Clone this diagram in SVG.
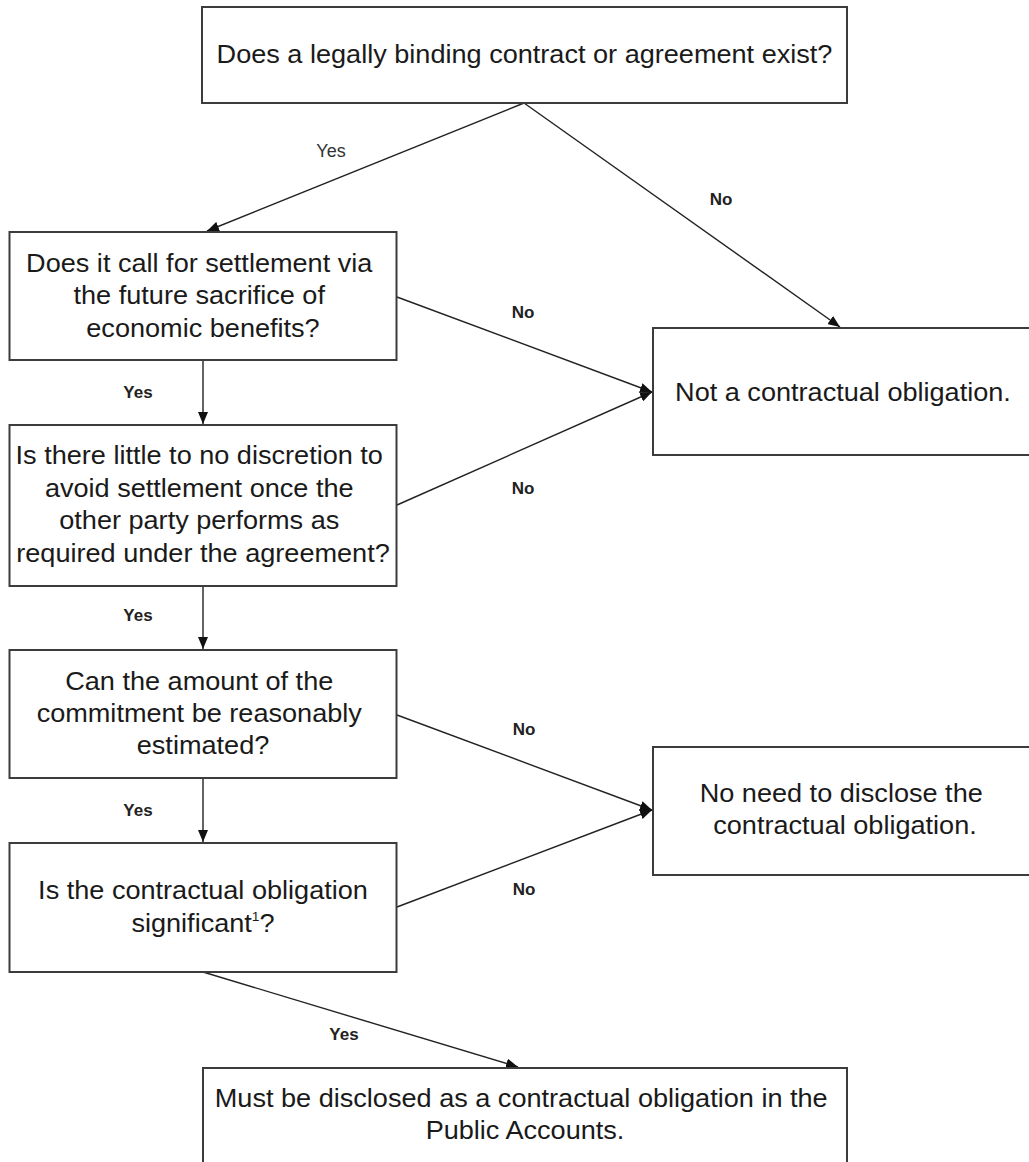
<svg xmlns="http://www.w3.org/2000/svg" width="1029" height="1162" viewBox="0 0 1029 1162">
  <style>
    .box { fill: #ffffff; stroke: #3c3c3c; stroke-width: 2; }
    .t { font-family: "Liberation Sans", Arial, sans-serif; font-size: 25.5px; fill: #1a1a1a; text-anchor: middle; }
    .lb { font-family: "Liberation Sans", Arial, sans-serif; font-size: 17px; font-weight: bold; fill: #222; text-anchor: middle; }
    .ln { font-family: "Liberation Sans", Arial, sans-serif; font-size: 18px; fill: #333; text-anchor: middle; }
    .c { fill: none; stroke: #222; stroke-width: 1.4; marker-end: url(#ah); }
  </style>
  <defs>
    <marker id="ah" viewBox="0 0 12 10" refX="12" refY="5" markerWidth="12" markerHeight="10" markerUnits="userSpaceOnUse" orient="auto">
      <path d="M0,0 L12,5 L0,10 Z" fill="#111"/>
    </marker>
  </defs>
  <rect width="1029" height="1162" fill="#ffffff"/>

  <g id="connectors">
    <line class="c" x1="524" y1="103" x2="207" y2="231"/>
    <line class="c" x1="524" y1="103" x2="840" y2="327"/>
    <line class="c" x1="397" y1="297" x2="652" y2="392"/>
    <line class="c" x1="397" y1="505" x2="652" y2="392"/>
    <line class="c" x1="203" y1="360" x2="203" y2="424"/>
    <line class="c" x1="203" y1="586" x2="203" y2="649"/>
    <line class="c" x1="397" y1="715" x2="652" y2="810"/>
    <line class="c" x1="397" y1="907" x2="652" y2="810"/>
    <line class="c" x1="203" y1="778" x2="203" y2="842"/>
    <line class="c" x1="203" y1="972" x2="518" y2="1067"/>
    <text class="ln" x="331" y="157">Yes</text>
    <text class="lb" x="721" y="205">No</text>
    <text class="lb" x="523" y="318">No</text>
    <text class="lb" x="138" y="398">Yes</text>
    <text class="lb" x="523" y="494">No</text>
    <text class="lb" x="138" y="621">Yes</text>
    <text class="lb" x="524" y="735">No</text>
    <text class="lb" x="138" y="816">Yes</text>
    <text class="lb" x="524" y="895">No</text>
    <text class="lb" x="344" y="1040">Yes</text>
  </g>

  <g id="n-contract">
    <rect class="box" x="202" y="7" width="645" height="96"/>
    <text class="t" transform="translate(524.5,63) scale(1.063,1)" x="0">Does a legally binding contract or agreement exist?</text>
  </g>

  <g id="n-settlement">
    <rect class="box" x="9.5" y="232" width="387" height="128"/>
    <text class="t" transform="translate(203,272) scale(1.063,1)">
      <tspan x="0" dy="0">Does it call for settlement via</tspan>
      <tspan x="0" dy="32.5">the future sacrifice of</tspan>
      <tspan x="0" dy="32.5">economic benefits?</tspan>
    </text>
  </g>

  <g id="n-discretion">
    <rect class="box" x="9.5" y="425" width="387" height="161"/>
    <text class="t" transform="translate(203,464) scale(1.063,1)">
      <tspan x="0" dy="0">Is there little to no discretion to</tspan>
      <tspan x="0" dy="32.7">avoid settlement once the</tspan>
      <tspan x="0" dy="32.7">other party performs as</tspan>
      <tspan x="0" dy="32.7">required under the agreement?</tspan>
    </text>
  </g>

  <g id="n-amount">
    <rect class="box" x="9.5" y="650" width="387" height="128"/>
    <text class="t" transform="translate(203,690) scale(1.063,1)">
      <tspan x="0" dy="0">Can the amount of the</tspan>
      <tspan x="0" dy="32">commitment be reasonably</tspan>
      <tspan x="0" dy="32">estimated?</tspan>
    </text>
  </g>

  <g id="n-significant">
    <rect class="box" x="9.5" y="843" width="387" height="129"/>
    <text class="t" transform="translate(203,899) scale(1.063,1)">
      <tspan x="0" dy="0">Is the contractual obligation</tspan>
    </text>
    <text class="t" transform="translate(203,932) scale(1.063,1)">significant<tspan font-size="13" dy="-11">1</tspan><tspan dy="11">?</tspan></text>
  </g>

  <g id="n-not-obligation">
    <rect class="box" x="653" y="328" width="390" height="127"/>
    <text class="t" transform="translate(843,401) scale(1.063,1)">Not a contractual obligation.</text>
  </g>

  <g id="n-no-need">
    <rect class="box" x="653" y="747" width="390" height="128"/>
    <text class="t" transform="translate(845,802) scale(1.063,1)">
      <tspan x="0" dy="0">No need to disclose the</tspan>
      <tspan x="0" dy="32.5">contractual obligation.</tspan>
    </text>
  </g>

  <g id="n-must-disclose">
    <rect class="box" x="203" y="1068" width="644" height="110"/>
    <text class="t" transform="translate(525,1107) scale(1.063,1)">
      <tspan x="0" dy="0">Must be disclosed as a contractual obligation in the</tspan>
      <tspan x="0" dy="32">Public Accounts.</tspan>
    </text>
  </g>
</svg>
